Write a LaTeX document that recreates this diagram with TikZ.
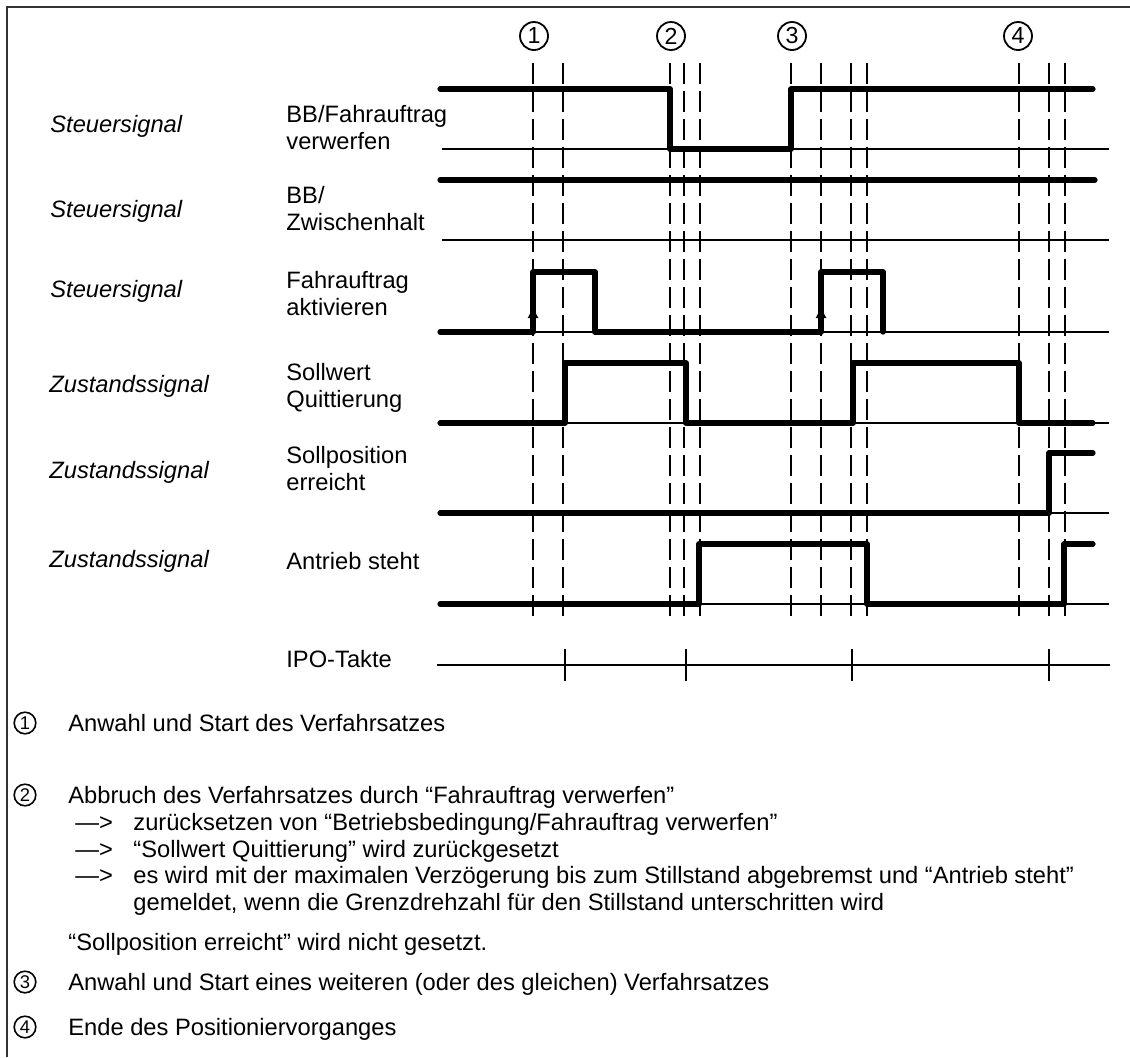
\documentclass[tikz,border=0pt]{standalone}
\usepackage{fontspec}
\setmainfont{Liberation Sans}
\usetikzlibrary{arrows.meta}

\begin{document}
\begin{tikzpicture}[
    x=0.5pt, y=-0.5pt,
    sigline/.style={line width=2.6pt, line cap=round, line join=round},
    zeroline/.style={line width=0.9pt},
    marker/.style={line width=0.65pt, dash pattern=on 10.5pt off 3.5pt},
    clockline/.style={line width=1pt},
    trigger/.style={-{Latex[length=6.5pt,width=5.4pt]}, line width=0.6pt},
    sigtype/.style={anchor=base west, inner sep=0pt, font=\fontsize{11.85}{13.25}\selectfont\itshape},
    signame/.style={anchor=base west, inner sep=0pt, align=left, font=\fontsize{11.85}{13.25}\selectfont},
    topnum/.style={draw, circle, line width=0.9pt, minimum size=14pt, inner sep=0pt, font=\fontsize{11.6}{12}\selectfont},
    legnum/.style={draw, circle, line width=0.8pt, minimum size=10.8pt, inner sep=0pt, font=\fontsize{9.2}{10}\selectfont},
    legtext/.style={anchor=base west, inner sep=0pt, font=\fontsize{11.85}{13.5}\selectfont}
]
\useasboundingbox (0,0) rectangle (1130,1057);
\draw[line width=0.6pt, black!80] (7,1057) -- (7,7) -- (1130,7);

% Zeitpunkte
\node[topnum] (t1) at (534,36) {1};
\node[topnum] (t2) at (671,36) {2};
\node[topnum] (t3) at (792,36) {3};
\node[topnum] (t4) at (1018,36) {4};
\foreach \x in {533,563,670,684,700,791,821,851,867,1019,1049,1065}
    \draw[marker] (\x,63) -- (\x,620);

% Beschriftung links
\node[sigtype] (k1) at (50,132) {Steuersignal};
\node[sigtype] (k2) at (50,217) {Steuersignal};
\node[sigtype] (k3) at (50,297) {Steuersignal};
\node[sigtype] (k4) at (49,392) {Zustandssignal};
\node[sigtype] (k5) at (49,478) {Zustandssignal};
\node[sigtype] (k6) at (49,567) {Zustandssignal};
\node[signame] (s1) at (286,149) {BB/Fahrauftrag\\verwerfen};
\node[signame] (s2) at (286,230) {BB/\\Zwischenhalt};
\node[signame] (s3) at (286,315) {Fahrauftrag\\aktivieren};
\node[signame] (s4) at (286,407) {Sollwert\\Quittierung};
\node[signame] (s5) at (286,490) {Sollposition\\erreicht};
\node[signame] (s6) at (286,569) {Antrieb steht};
\node[signame] (s7) at (286,667) {IPO-Takte};

% Nulllinien
\foreach \y in {149,240,332,423,513,604}
    \draw[zeroline] (442,\y) -- (1109,\y);

% Signalverlaeufe
\draw[sigline] (440,89) -- (670,89) -- (670,149) -- (791,149) -- (791,89) -- (1093,89);
\draw[sigline] (440,180) -- (1095,180);
\draw[sigline] (440,332) -- (533,332) -- (533,272) -- (595,272) -- (595,332)
    -- (821,332) -- (821,272) -- (883,272) -- (883,332);
\draw[trigger] (533,322) -- (533,305);
\draw[trigger] (821,322) -- (821,305);
\draw[sigline] (440,423) -- (565,423) -- (565,363) -- (686,363) -- (686,423)
    -- (853,423) -- (853,363) -- (1019,363) -- (1019,423) -- (1093,423);
\draw[sigline] (440,513) -- (1049,513) -- (1049,453) -- (1093,453);
\draw[sigline] (440,604) -- (699,604) -- (699,544) -- (867,544) -- (867,604)
    -- (1064,604) -- (1064,544) -- (1093,544);

% IPO-Takte
\draw[clockline] (437,665) -- (1110,665);
\foreach \x in {565,686,852,1049}
    \draw[clockline] (\x,649) -- (\x,681);

% Legende
\node[legnum] (l1) at (25,723) {1};
\node[legtext] (d1) at (68,731) {Anwahl und Start des Verfahrsatzes};
\node[legnum] (l2) at (25,795) {2};
\node[legtext] (d2) at (68,803) {Abbruch des Verfahrsatzes durch “Fahrauftrag verwerfen”};
\node[legtext] (a1) at (75,830) {—>};
\node[legtext] (d3) at (133,830) {zurücksetzen von “Betriebsbedingung/Fahrauftrag verwerfen”};
\node[legtext] (a2) at (75,857) {—>};
\node[legtext] (d4) at (133,857) {“Sollwert Quittierung” wird zurückgesetzt};
\node[legtext] (a3) at (75,883) {—>};
\node[legtext] (d5) at (133,883) {es wird mit der maximalen Verzögerung bis zum Stillstand abgebremst und “Antrieb steht”};
\node[legtext] (d6) at (133,910) {gemeldet, wenn die Grenzdrehzahl für den Stillstand unterschritten wird};
\node[legtext] (d7) at (68,950) {“Sollposition erreicht” wird nicht gesetzt.};
\node[legnum] (l3) at (25,982) {3};
\node[legtext] (d8) at (68,990) {Anwahl und Start eines weiteren (oder des gleichen) Verfahrsatzes};
\node[legnum] (l4) at (25,1027) {4};
\node[legtext] (d9) at (68,1035) {Ende des Positioniervorganges};
\end{tikzpicture}
\end{document}
